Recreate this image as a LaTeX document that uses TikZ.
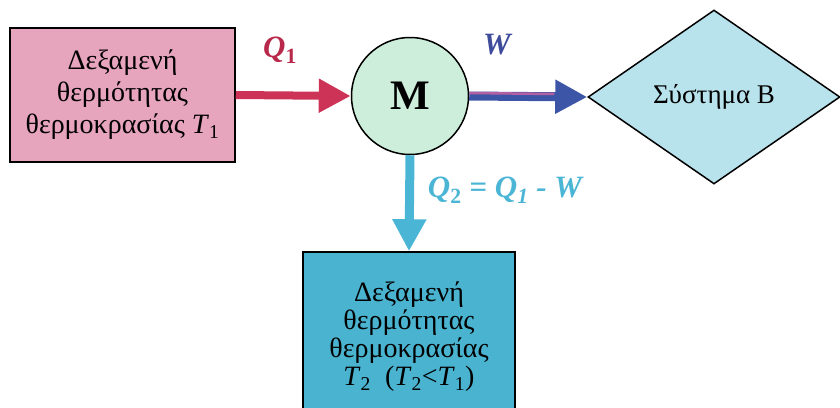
\documentclass[tikz,border=0pt]{standalone}
\usepackage{fontspec}
\setmainfont{Liberation Serif}
\usetikzlibrary{arrows.meta,shapes.geometric}
\definecolor{pinkfill}{HTML}{E7A4BD}
\definecolor{greenfill}{HTML}{CDEEDB}
\definecolor{cyanfill}{HTML}{B8E2EC}
\definecolor{tealfill}{HTML}{4AB3CF}
\definecolor{qonec}{HTML}{B8284A}
\definecolor{redarrow}{HTML}{CC3356}
\definecolor{wc}{HTML}{3F4C9C}
\definecolor{warrow}{HTML}{3D55A6}
\definecolor{wstripe}{HTML}{B45FA2}
\definecolor{qtwoc}{HTML}{4BB5D5}
\tikzset{
  reservoir/.style={draw=black, line width=1.5pt, rectangle, align=center, inner sep=0pt},
  bigtip/.style={-{Triangle[length=32pt,width=32pt]}},
  flowlabel/.style={font=\bfseries\itshape\fontsize{31}{31}\selectfont, inner sep=0pt},
  boxtext/.style={font=\fontsize{28}{32}\selectfont}
}
\begin{document}
\begin{tikzpicture}[x=1pt,y=-1pt]
\useasboundingbox (0,0) rectangle (840,407);
\clip (0,0) rectangle (840,407);
% nodes
\node[reservoir, fill=pinkfill, minimum width=225pt, minimum height=134pt, boxtext] (A) at (122.5,95)
  {Δεξαμενή\\θερμότητας\\θερμοκρασίας \textit{T}\textsubscript{1}};
\node[circle, draw=black, line width=1.5pt, fill=greenfill, minimum size=117pt, inner sep=0pt,
  font=\bfseries\fontsize{42}{42}\selectfont] (M) at (410,96) {M};
\node[diamond, draw=black, line width=1.5pt, fill=cyanfill, minimum width=252pt, minimum height=174pt,
  inner sep=0pt, font=\fontsize{27}{28}\selectfont] (B) at (714,97) {Σύστημα Β};
\node[reservoir, fill=tealfill, minimum width=212pt, minimum height=170pt,
  font=\fontsize{28}{28}\selectfont] (C) at (409,337)
  {Δεξαμενή\\θερμότητας\\θερμοκρασίας\\\textit{T}\textsubscript{2}~~(\textit{T}\textsubscript{2}<\textit{T}\textsubscript{1})};
% connectors
\draw[bigtip, redarrow, line width=8pt] (A.east) -- (M.west);
\draw[bigtip, warrow, line width=9pt] (M.east) -- (B.west);
\draw[wstripe, line width=2.5pt] ([yshift=3pt]M.east) -- ([xshift=-33pt,yshift=3pt]B.west);
\draw[bigtip, qtwoc, line width=9pt] (M.south) -- (C.north);
% labels
\node[flowlabel, text=qonec] (q1) at (280,50) {Q\textsubscript{\upshape 1}};
\node[flowlabel, text=wc] (w) at (497,45) {W};
\node[flowlabel, text=qtwoc] (q2) at (505,190) {Q\textsubscript{\upshape 2} = Q\textsubscript{1} - W};
\end{tikzpicture}
\end{document}
